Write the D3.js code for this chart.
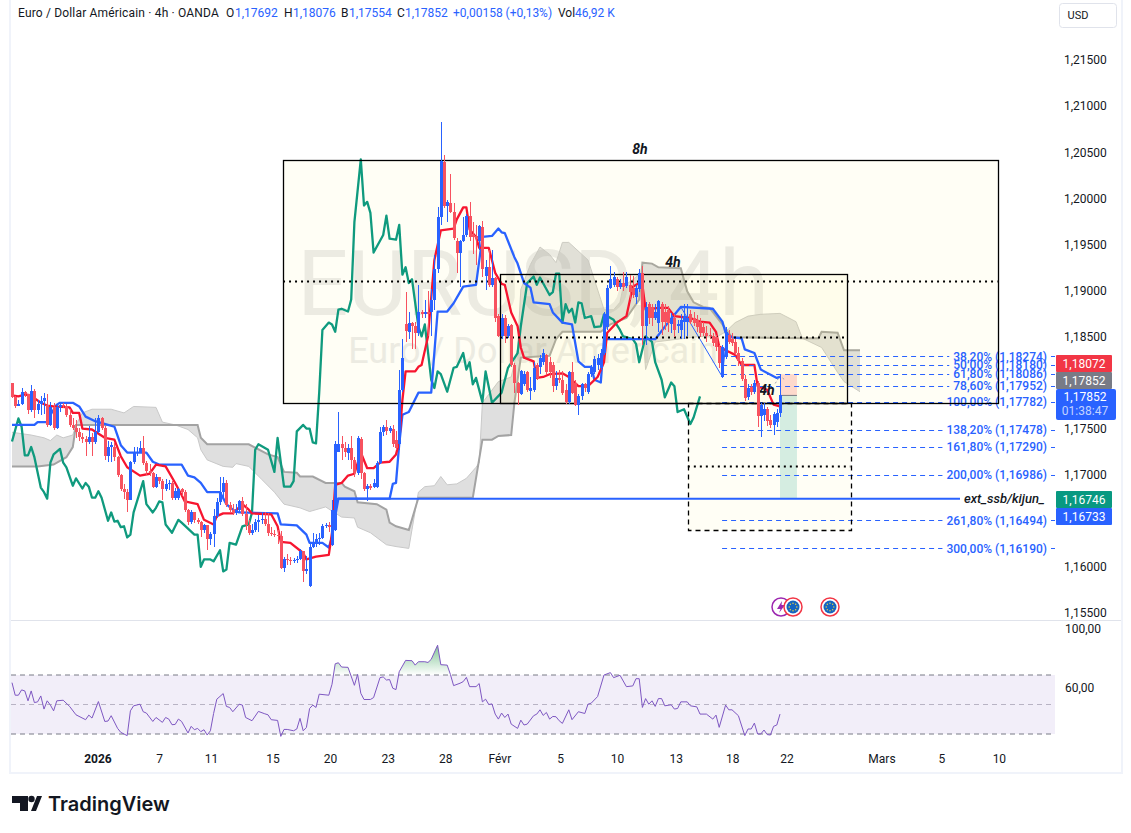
<!DOCTYPE html>
<html>
<head>
<meta charset="utf-8">
<title>EURUSD 4h</title>
<script src="https://cdnjs.cloudflare.com/ajax/libs/d3/7.8.5/d3.min.js"></script>
<style>
html, body { margin: 0; padding: 0; background: #fff; }
svg { display: block; }
text { font-family: Roboto, "Liberation Sans", sans-serif; }
.axis text { font-size: 12px; fill: #131722; }
.axis path, .axis line { display: none; }
</style>
</head>
<body>
<div id="chart"></div>
<script>
// candles, one entry per 4h bar
var candleOpen = [
1.1798,1.1783,1.1774,1.1776,1.1789,1.1786,1.1769,1.1790,1.1769,1.1776,
1.1779,1.1775,1.1753,1.1772,1.1750,1.1772,1.1775,1.1773,1.1764,1.1753,
1.1750,1.1745,1.1740,1.1738,1.1734,1.1740,1.1734,1.1745,1.1761,1.1750,
1.1719,1.1729,1.1729,1.1718,1.1699,1.1683,1.1680,1.1672,1.1713,1.1722,
1.1724,1.1728,1.1712,1.1703,1.1701,1.1686,1.1696,1.1692,1.1683,1.1689,
1.1690,1.1674,1.1674,1.1683,1.1680,1.1661,1.1648,1.1658,1.1650,1.1648,
1.1639,1.1644,1.1629,1.1635,1.1654,1.1669,1.1680,1.1690,1.1666,1.1661,
1.1657,1.1661,1.1670,1.1656,1.1644,1.1636,1.1639,1.1648,1.1650,1.1651,
1.1645,1.1636,1.1635,1.1634,1.1632,1.1598,1.1607,1.1606,1.1605,1.1606,
1.1607,1.1616,1.1594,1.1578,1.1620,1.1625,1.1629,1.1630,1.1643,1.1644,
1.1623,1.1639,1.1724,1.1732,1.1728,1.1722,1.1728,1.1715,1.1701,1.1738,
1.1701,1.1683,1.1687,1.1686,1.1686,1.1712,1.1745,1.1751,1.1746,1.1749,
1.1737,1.1732,1.1791,1.1862,1.1854,1.1864,1.1860,1.1853,1.1876,1.1873,
1.1876,1.1876,1.1888,1.1922,1.1979,1.2038,1.1990,1.1994,1.1984,1.1952,
1.1940,1.1953,1.1959,1.1980,1.1959,1.1958,1.1953,1.1968,1.1915,1.1924,
1.1905,1.1912,1.1871,1.1849,1.1869,1.1849,1.1861,1.1818,1.1799,1.1786,
1.1797,1.1810,1.1790,1.1791,1.1818,1.1816,1.1821,1.1829,1.1821,1.1818,
1.1795,1.1804,1.1802,1.1791,1.1778,1.1810,1.1799,1.1775,1.1784,1.1797,
1.1789,1.1808,1.1810,1.1818,1.1815,1.1831,1.1859,1.1902,1.1905,1.1911,
1.1903,1.1907,1.1904,1.1905,1.1902,1.1892,1.1900,1.1918,1.1860,1.1884,
1.1881,1.1869,1.1864,1.1884,1.1876,1.1878,1.1862,1.1869,1.1860,1.1856,
1.1865,1.1865,1.1873,1.1869,1.1867,1.1865,1.1859,1.1853,1.1851,1.1849,
1.1848,1.1838,1.1805,1.1827,1.1851,1.1846,1.1843,1.1831,1.1822,1.1803,
1.1783,1.1794,1.1789,1.1799,1.1763,1.1764,1.1770,1.1758,1.1753,1.1756,1.1766];
var candleHigh = [
1.1799,1.1784,1.1780,1.1793,1.1790,1.1786,1.1796,1.1792,1.1780,1.1784,
1.1788,1.1787,1.1778,1.1777,1.1775,1.1777,1.1777,1.1776,1.1770,1.1761,
1.1758,1.1750,1.1744,1.1741,1.1752,1.1744,1.1760,1.1764,1.1762,1.1752,
1.1736,1.1734,1.1734,1.1719,1.1700,1.1689,1.1683,1.1714,1.1729,1.1729,
1.1736,1.1741,1.1714,1.1711,1.1702,1.1700,1.1697,1.1694,1.1694,1.1693,
1.1692,1.1684,1.1684,1.1685,1.1682,1.1662,1.1661,1.1659,1.1652,1.1649,
1.1646,1.1644,1.1637,1.1662,1.1674,1.1696,1.1697,1.1693,1.1669,1.1667,
1.1667,1.1672,1.1675,1.1667,1.1650,1.1645,1.1651,1.1655,1.1659,1.1659,
1.1657,1.1642,1.1639,1.1639,1.1638,1.1610,1.1613,1.1610,1.1609,1.1611,
1.1618,1.1616,1.1611,1.1625,1.1636,1.1635,1.1636,1.1646,1.1647,1.1648,
1.1671,1.1735,1.1767,1.1741,1.1734,1.1732,1.1741,1.1718,1.1741,1.1740,
1.1702,1.1689,1.1689,1.1694,1.1714,1.1751,1.1753,1.1758,1.1752,1.1753,
1.1746,1.1813,1.1846,1.1897,1.1875,1.1865,1.1865,1.1905,1.1878,1.1889,
1.1898,1.1900,1.1937,1.1989,1.2082,1.2046,1.1997,1.2025,1.1994,1.1956,
1.1954,1.1979,1.1982,1.1995,1.1973,1.1970,1.1970,1.1974,1.1932,1.1943,
1.1943,1.1914,1.1873,1.1873,1.1872,1.1862,1.1862,1.1820,1.1800,1.1813,
1.1811,1.1811,1.1805,1.1821,1.1820,1.1829,1.1835,1.1830,1.1827,1.1821,
1.1811,1.1813,1.1811,1.1797,1.1812,1.1821,1.1802,1.1786,1.1799,1.1799,
1.1810,1.1818,1.1828,1.1830,1.1835,1.1875,1.1905,1.1925,1.1919,1.1914,
1.1911,1.1919,1.1919,1.1916,1.1915,1.1905,1.1922,1.1925,1.1886,1.1886,
1.1884,1.1884,1.1889,1.1886,1.1884,1.1882,1.1874,1.1873,1.1867,1.1873,
1.1884,1.1884,1.1878,1.1876,1.1872,1.1869,1.1865,1.1860,1.1858,1.1853,
1.1851,1.1840,1.1840,1.1859,1.1856,1.1853,1.1846,1.1837,1.1826,1.1807,
1.1797,1.1797,1.1802,1.1801,1.1777,1.1777,1.1772,1.1764,1.1767,1.1770,1.1808];
var candleLow = [
1.1782,1.1771,1.1773,1.1775,1.1783,1.1765,1.1767,1.1761,1.1765,1.1764,
1.1765,1.1751,1.1752,1.1748,1.1749,1.1767,1.1771,1.1762,1.1751,1.1747,
1.1739,1.1736,1.1733,1.1719,1.1732,1.1719,1.1732,1.1744,1.1748,1.1715,
1.1713,1.1713,1.1714,1.1697,1.1681,1.1673,1.1659,1.1671,1.1711,1.1719,
1.1722,1.1710,1.1699,1.1698,1.1684,1.1684,1.1689,1.1672,1.1681,1.1682,
1.1672,1.1672,1.1671,1.1676,1.1659,1.1644,1.1646,1.1647,1.1645,1.1631,
1.1636,1.1617,1.1623,1.1620,1.1652,1.1666,1.1675,1.1664,1.1658,1.1655,
1.1655,1.1659,1.1654,1.1639,1.1634,1.1634,1.1637,1.1637,1.1646,1.1643,
1.1632,1.1632,1.1631,1.1624,1.1597,1.1593,1.1601,1.1601,1.1603,1.1603,
1.1606,1.1583,1.1591,1.1577,1.1619,1.1620,1.1623,1.1629,1.1641,1.1637,
1.1622,1.1638,1.1724,1.1715,1.1718,1.1715,1.1705,1.1697,1.1699,1.1694,
1.1681,1.1670,1.1682,1.1684,1.1685,1.1711,1.1741,1.1742,1.1744,1.1729,
1.1726,1.1726,1.1789,1.1843,1.1846,1.1835,1.1835,1.1849,1.1869,1.1869,
1.1849,1.1849,1.1878,1.1918,1.1970,1.1988,1.1973,1.1983,1.1954,1.1918,
1.1903,1.1951,1.1957,1.1953,1.1938,1.1927,1.1943,1.1913,1.1899,1.1903,
1.1903,1.1865,1.1848,1.1846,1.1842,1.1847,1.1816,1.1788,1.1775,1.1785,
1.1795,1.1789,1.1780,1.1789,1.1802,1.1808,1.1818,1.1807,1.1804,1.1789,
1.1791,1.1798,1.1785,1.1776,1.1776,1.1786,1.1773,1.1764,1.1780,1.1789,
1.1786,1.1805,1.1808,1.1813,1.1813,1.1829,1.1856,1.1900,1.1903,1.1898,
1.1900,1.1898,1.1902,1.1889,1.1891,1.1884,1.1897,1.1840,1.1840,1.1862,
1.1860,1.1867,1.1854,1.1851,1.1856,1.1854,1.1853,1.1848,1.1853,1.1846,
1.1846,1.1850,1.1862,1.1860,1.1854,1.1848,1.1850,1.1843,1.1846,1.1839,
1.1833,1.1815,1.1804,1.1824,1.1841,1.1839,1.1829,1.1817,1.1801,1.1779,
1.1780,1.1785,1.1787,1.1751,1.1740,1.1757,1.1752,1.1750,1.1742,1.1751,1.1762];
var candleClose = [
1.1783,1.1774,1.1776,1.1789,1.1786,1.1769,1.1790,1.1769,1.1776,1.1779,
1.1782,1.1753,1.1772,1.1750,1.1772,1.1775,1.1773,1.1764,1.1753,1.1750,
1.1745,1.1740,1.1738,1.1734,1.1740,1.1734,1.1745,1.1761,1.1750,1.1719,
1.1729,1.1731,1.1718,1.1699,1.1683,1.1680,1.1672,1.1713,1.1722,1.1724,
1.1728,1.1712,1.1703,1.1701,1.1686,1.1696,1.1692,1.1683,1.1689,1.1690,
1.1674,1.1681,1.1683,1.1680,1.1661,1.1648,1.1658,1.1650,1.1648,1.1639,
1.1644,1.1629,1.1635,1.1654,1.1669,1.1680,1.1690,1.1666,1.1661,1.1657,
1.1661,1.1670,1.1656,1.1644,1.1636,1.1639,1.1648,1.1650,1.1651,1.1645,
1.1636,1.1635,1.1634,1.1632,1.1598,1.1607,1.1606,1.1605,1.1606,1.1607,
1.1616,1.1594,1.1597,1.1620,1.1625,1.1629,1.1630,1.1643,1.1644,1.1642,
1.1661,1.1732,1.1732,1.1728,1.1724,1.1728,1.1715,1.1701,1.1739,1.1701,
1.1683,1.1687,1.1685,1.1690,1.1712,1.1745,1.1751,1.1746,1.1750,1.1732,
1.1728,1.1791,1.1826,1.1855,1.1864,1.1860,1.1853,1.1876,1.1873,1.1876,
1.1873,1.1888,1.1922,1.1979,1.2039,1.1990,1.1995,1.1984,1.1956,1.1940,
1.1952,1.1959,1.1980,1.1957,1.1957,1.1956,1.1969,1.1922,1.1924,1.1905,
1.1912,1.1869,1.1849,1.1869,1.1849,1.1860,1.1818,1.1799,1.1788,1.1812,
1.1808,1.1791,1.1793,1.1815,1.1804,1.1826,1.1831,1.1810,1.1810,1.1795,
1.1804,1.1802,1.1788,1.1778,1.1810,1.1788,1.1775,1.1784,1.1797,1.1793,
1.1808,1.1816,1.1824,1.1826,1.1831,1.1873,1.1902,1.1911,1.1914,1.1903,
1.1907,1.1903,1.1913,1.1897,1.1894,1.1902,1.1918,1.1860,1.1881,1.1869,
1.1869,1.1876,1.1887,1.1865,1.1865,1.1864,1.1869,1.1856,1.1862,1.1867,
1.1871,1.1869,1.1865,1.1864,1.1859,1.1853,1.1853,1.1849,1.1849,1.1842,
1.1838,1.1820,1.1838,1.1854,1.1843,1.1842,1.1831,1.1822,1.1803,1.1782,
1.1793,1.1789,1.1799,1.1763,1.1775,1.1770,1.1757,1.1753,1.1765,1.1766,1.1785];

// ichimoku lines, read at the bars where they turn
var tenkanBars = [0,2,4,6,7,9,11,13,18,19,21,22,25,29,32,34,36,40,43,45,48,51,53,54,58,60,63,64,66,69,72,74,75,81,83,84,87,91,92,95,99,100,101,103,105,107,109,111,113,115,118,120,121,122,123,126,127,128,130,132,134,138,139,141,142,143,145,146,149,151,153,154,156,158,159,160,163,164,166,168,172,174,177,180,183,185,186,189,192,194,196,197,198,202,205,207,212,215,218,220,221,223,226,228,232,233,236,238,240];
var tenkanValues = [1.1785,1.1784,1.1786,1.1785,1.1782,1.1777,1.1774,1.1773,1.1772,1.1766,1.1766,1.1749,1.1748,1.1739,1.1737,1.1719,1.1707,1.1698,1.1700,1.1710,1.1708,1.1690,1.1677,1.1670,1.1667,1.1650,1.1645,1.1654,1.1657,1.1657,1.1667,1.1661,1.1657,1.1656,1.1643,1.1626,1.1625,1.1614,1.1607,1.1610,1.1612,1.1636,1.1688,1.1690,1.1698,1.1700,1.1723,1.1706,1.1706,1.1712,1.1713,1.1721,1.1734,1.1780,1.1811,1.1811,1.1816,1.1818,1.1849,1.1932,1.1964,1.1966,1.1976,1.1989,1.1989,1.1965,1.1957,1.1945,1.1945,1.1918,1.1906,1.1905,1.1875,1.1860,1.1837,1.1826,1.1822,1.1804,1.1805,1.1808,1.1809,1.1805,1.1795,1.1795,1.1805,1.1821,1.1853,1.1864,1.1871,1.1903,1.1907,1.1905,1.1878,1.1880,1.1880,1.1871,1.1869,1.1865,1.1864,1.1854,1.1838,1.1834,1.1829,1.1818,1.1818,1.1795,1.1791,1.1775,1.1773];
var kijunBars = [0,7,8,11,12,14,15,19,21,23,26,30,32,34,36,42,44,46,53,55,57,59,61,65,67,69,71,83,84,89,92,93,97,99,100,101,102,118,119,120,121,122,124,127,131,133,136,138,141,145,147,150,152,153,154,157,158,160,162,163,168,169,172,175,177,179,181,182,184,185,201,205,209,219,222,223,225,228,229,232,234,239,240];
var kijunValues = [1.1753,1.1753,1.1756,1.1756,1.1764,1.1775,1.1777,1.1777,1.1773,1.1762,1.1757,1.1753,1.1751,1.1731,1.1723,1.1723,1.1713,1.1710,1.1710,1.1698,1.1696,1.1690,1.1680,1.1680,1.1667,1.1661,1.1658,1.1657,1.1645,1.1644,1.1634,1.1625,1.1625,1.1620,1.1631,1.1654,1.1673,1.1673,1.1689,1.1690,1.1732,1.1764,1.1767,1.1788,1.1788,1.1876,1.1876,1.1885,1.1903,1.1905,1.1957,1.1958,1.1966,1.1962,1.1961,1.1935,1.1928,1.1907,1.1902,1.1886,1.1884,1.1875,1.1864,1.1862,1.1822,1.1816,1.1816,1.1802,1.1799,1.1846,1.1846,1.1864,1.1881,1.1879,1.1865,1.1853,1.1848,1.1847,1.1835,1.1831,1.1813,1.1804,1.1805];
var chikouBars = [0,2,3,4,5,6,7,9,10,11,12,13,15,16,17,19,20,22,23,24,25,26,27,28,30,31,32,33,34,35,36,37,38,41,42,44,45,46,47,48,50,52,53,57,58,59,60,62,63,65,66,67,68,70,72,74,75,76,77,80,82,83,85,87,88,89,91,92,93,94,95,96,97,99,100,101,102,103,105,106,107,109,110,111,112,113,116,117,118,120,121,122,123,124,125,127,128,129,131,132,133,134,136,138,139,141,142,143,144,145,147,148,150,153,155,158,159,161,163,164,165,168,169,170,171,172,173,174,175,176,177,178,179,181,182,184,185,188,190,191,194,195,196,198,200,201,203,204,206,207,208,210,212,213,215];
var chikouValues = [1.1735,1.1760,1.1751,1.1720,1.1720,1.1729,1.1718,1.1685,1.1680,1.1673,1.1712,1.1721,1.1727,1.1712,1.1707,1.1687,1.1695,1.1684,1.1690,1.1686,1.1674,1.1674,1.1681,1.1674,1.1649,1.1658,1.1648,1.1649,1.1642,1.1643,1.1631,1.1634,1.1658,1.1692,1.1667,1.1658,1.1663,1.1670,1.1669,1.1645,1.1636,1.1650,1.1647,1.1634,1.1634,1.1599,1.1607,1.1607,1.1605,1.1617,1.1594,1.1596,1.1625,1.1623,1.1643,1.1645,1.1658,1.1726,1.1732,1.1726,1.1702,1.1739,1.1686,1.1686,1.1692,1.1746,1.1753,1.1749,1.1749,1.1734,1.1733,1.1788,1.1856,1.1864,1.1862,1.1854,1.1878,1.1879,1.1876,1.1889,1.1973,1.2041,1.1991,1.1995,1.1983,1.1940,1.1959,1.1980,1.1955,1.1954,1.1970,1.1916,1.1924,1.1907,1.1911,1.1860,1.1849,1.1862,1.1802,1.1793,1.1811,1.1808,1.1789,1.1815,1.1816,1.1831,1.1813,1.1821,1.1797,1.1804,1.1778,1.1811,1.1777,1.1788,1.1815,1.1831,1.1860,1.1907,1.1914,1.1905,1.1913,1.1894,1.1897,1.1917,1.1917,1.1864,1.1884,1.1875,1.1879,1.1864,1.1886,1.1885,1.1869,1.1871,1.1859,1.1860,1.1873,1.1867,1.1856,1.1849,1.1846,1.1841,1.1821,1.1849,1.1843,1.1821,1.1802,1.1783,1.1799,1.1795,1.1767,1.1770,1.1754,1.1761,1.1784];
var spanABars = [0,6,10,12,14,16,19,20,22,25,31,35,38,45,47,51,55,58,59,61,66,69,70,74,78,82,85,90,93,98,103,107,108,112,117,120,124,127,129,132,134,136,139,142,145,146,147,152,156,158,159,162,165,168,170,172,174,180,184,185,188,190,191,196,198,201,215,220,223,226,230,234,240,245,247,253,258,260,265];
var spanAValues = [1.1745,1.1742,1.1739,1.1736,1.1742,1.1739,1.1742,1.1753,1.1766,1.1770,1.1770,1.1766,1.1773,1.1772,1.1756,1.1753,1.1748,1.1739,1.1726,1.1715,1.1708,1.1707,1.1711,1.1708,1.1694,1.1680,1.1667,1.1663,1.1659,1.1664,1.1653,1.1652,1.1642,1.1636,1.1623,1.1621,1.1619,1.1680,1.1686,1.1687,1.1697,1.1688,1.1689,1.1695,1.1707,1.1712,1.1777,1.1800,1.1805,1.1835,1.1900,1.1927,1.1946,1.1938,1.1929,1.1951,1.1951,1.1932,1.1889,1.1878,1.1878,1.1886,1.1903,1.1916,1.1813,1.1843,1.1849,1.1848,1.1854,1.1864,1.1871,1.1873,1.1874,1.1865,1.1847,1.1837,1.1810,1.1800,1.1789];
var spanBBars = [0,8,13,17,19,20,58,59,61,74,80,83,85,89,90,94,98,103,104,107,108,114,117,118,120,124,127,144,147,150,152,156,157,158,159,168,170,172,184,187,192,196,197,200,202,209,211,213,216,218,222,225,247,252,253,258,260,265];
var spanBValues = [1.1708,1.1708,1.1710,1.1718,1.1729,1.1753,1.1753,1.1739,1.1732,1.1732,1.1721,1.1718,1.1702,1.1701,1.1697,1.1697,1.1690,1.1690,1.1686,1.1681,1.1669,1.1667,1.1661,1.1647,1.1643,1.1639,1.1674,1.1674,1.1737,1.1737,1.1741,1.1742,1.1777,1.1802,1.1826,1.1828,1.1846,1.1854,1.1854,1.1862,1.1869,1.1889,1.1929,1.1928,1.1924,1.1923,1.1898,1.1886,1.1881,1.1880,1.1862,1.1848,1.1847,1.1847,1.1854,1.1853,1.1834,1.1834];

// rsi pane
var rsiBars = [0,1,2,3,4,5,6,7,8,9,10,11,12,13,14,16,18,20,23,24,25,27,29,30,31,33,34,36,37,38,40,41,42,44,45,47,48,49,50,51,52,53,55,56,57,58,59,60,61,62,63,64,66,67,68,69,71,72,73,75,77,79,80,81,83,84,85,86,88,89,90,91,92,93,94,95,96,99,100,101,102,103,105,107,108,109,110,112,113,115,116,117,118,119,120,121,123,125,126,127,129,130,131,133,134,136,137,138,140,141,142,143,145,146,147,148,149,150,151,152,153,154,155,156,158,159,160,161,163,164,165,166,167,168,169,170,171,172,174,175,177,179,180,181,183,185,187,188,190,192,194,195,196,197,198,199,200,201,202,203,204,206,207,208,209,211,212,214,215,217,219,220,221,223,224,225,227,229,230,231,232,233,234,235,236,237,238,239,240];
var rsiValues = [64.8,56.3,56.3,59.9,59.2,52.5,59.2,51.3,51.8,55.8,46.9,52.5,49.6,45.7,52.5,52.9,48.7,43.0,39.7,42.8,40.8,52.0,38.5,38.8,42.4,33.8,31.1,28.9,45.7,49.1,50.2,45.1,44.2,38.5,41.2,37.9,41.2,40.1,36.3,36.5,40.1,38.5,30.7,35.2,32.9,33.8,31.6,32.9,29.3,32.2,43.9,53.6,57.4,48.7,48.0,45.1,50.2,49.6,41.2,39.0,45.3,43.7,43.0,39.7,39.2,28.4,33.1,33.1,32.2,33.4,40.6,32.2,34.4,47.3,49.6,48.0,57.0,56.3,63.7,77.6,78.3,75.4,75.2,63.0,70.4,57.6,53.4,53.4,54.7,68.2,68.7,66.6,66.9,61.0,60.1,72.2,79.9,79.7,76.7,79.0,79.0,78.5,80.6,90.2,77.0,76.7,70.4,62.8,64.4,65.5,68.4,62.1,62.1,64.2,51.8,53.6,50.0,50.4,43.5,40.1,44.2,41.2,43.5,36.7,33.8,39.4,36.1,36.7,42.4,43.5,46.4,42.6,44.6,40.1,41.9,41.7,39.0,37.2,46.4,39.7,45.1,43.9,50.2,50.9,55.4,70.0,71.6,68.2,69.8,62.1,62.6,67.5,67.5,48.0,54.0,50.2,52.5,48.7,54.0,54.0,49.1,49.8,46.9,47.3,51.8,51.8,49.1,48.4,43.5,43.5,40.1,42.8,34.5,49.6,46.4,46.4,42.4,28.9,33.4,33.4,37.4,30.0,30.0,32.7,29.6,29.3,35.2,36.1,43.5];
var rsiBands = [70, 50, 30];
var rsiTicks = [100, 60];

// axes
var priceTicks = [1.215,1.21,1.205,1.2,1.195,1.19,1.185,1.175,1.17,1.16,1.155];
var timeTickBars = [26.7,46,62.2,81.4,99.4,117.4,135.4,152.3,171.3,189.1,207.4,225.1,242,271.7,290.4,308.4];
var timeTickLabels = ["2026","7","11","15","20","23","28","Févr","5","10","13","18","22","Mars","5","10"];

// fib levels of the drawing on the right
var fibLevels = ["38,20%","50,00%","61,80%","78,60%","100,00%","138,20%","161,80%","200,00%","261,80%","300,00%"];
var fibPrices = [1.18274,1.1818,1.18086,1.17952,1.17782,1.17478,1.1729,1.16986,1.16494,1.1619];

// boxes drawn on the chart
var boxLeft = [84.7,152.5,211.2];
var boxRight = [308,261,262];
var boxTop = [1.2040,1.1917,1.17765];
var boxBottom = [1.17765,1.17765,1.16383];
var boxMid = [1.19085,1.18477,1.17078];
var boxNames = ["8h","4h","4h"];

var width = 1131, height = 833;
var fr = d3.formatLocale({decimal: ",", thousands: " ", grouping: [3], currency: ["", ""]});
var fmtPrice = fr.format(".5f"), fmtRsi = fr.format(".2f");
var BLUE = "#2962ff", RED = "#f7525f";

var xScale = d3.scaleLinear().domain([0, 100]).range([12, 332]);
var yScale = d3.scaleLinear().domain([1.155, 1.215]).range([612, 59]);
var rsiScale = d3.scaleLinear().domain([30, 70]).range([734, 675]);

var svg = d3.select("#chart").append("svg").attr("width", width).attr("height", height);

// frame of the chart
var frame = "#f0f3fa";
svg.append("rect").attr("x", 9).attr("y", 0).attr("width", 2).attr("height", 774).attr("fill", frame);
svg.append("rect").attr("x", 1121).attr("y", 0).attr("width", 2).attr("height", 774).attr("fill", frame);
svg.append("rect").attr("x", 9).attr("y", 772).attr("width", 1114).attr("height", 2).attr("fill", frame);
svg.append("line").attr("x1", 11).attr("x2", 1121).attr("y1", 620.5).attr("y2", 620.5).attr("stroke", "#e0e3eb");

// watermark
svg.append("text").attr("x", 533).attr("y", 315).attr("text-anchor", "middle")
    .style("font-size", "90px").attr("fill", "#ebebeb").text("EURUSD, 4h");
svg.append("text").attr("x", 533).attr("y", 363).attr("text-anchor", "middle")
    .style("font-size", "36px").attr("fill", "#ebebeb").text("Euro / Dollar Américain");

var lineGen = d3.line().x(function(d) { return xScale(d[0]); }).y(function(d) { return yScale(d[1]); });
function pairs(bars, values) { return bars.map(function(b, i) { return [b, values[i]]; }); }

// cloud
var spanA = pairs(spanABars, spanAValues), spanB = pairs(spanBBars, spanBValues);
svg.append("path").attr("d", lineGen(spanA.concat(spanB.slice().reverse())) + "Z")
    .attr("fill", "#808080").attr("fill-opacity", 0.25);
svg.append("path").attr("d", lineGen(spanA)).attr("fill", "none").attr("stroke", "#c9c9c9").attr("stroke-width", 1);
svg.append("path").attr("d", lineGen(spanB)).attr("fill", "none").attr("stroke", "#a3a3a3").attr("stroke-width", 2);

// boxes
boxNames.forEach(function(name, i) {
    var x0 = xScale(boxLeft[i]), x1 = xScale(boxRight[i]), y0 = yScale(boxTop[i]), y1 = yScale(boxBottom[i]);
    svg.append("rect").attr("x", x0).attr("y", y0).attr("width", x1 - x0).attr("height", y1 - y0)
        .attr("fill", "#fff176").attr("fill-opacity", 0.07);
});

// short position tool
var posX0 = xScale(240), posX1 = xScale(245.3);
svg.append("rect").attr("x", posX0).attr("width", posX1 - posX0)
    .attr("y", yScale(1.1808)).attr("height", yScale(1.1785) - yScale(1.1808))
    .attr("fill", "#f23645").attr("fill-opacity", 0.18);
svg.append("rect").attr("x", posX0).attr("width", posX1 - posX0)
    .attr("y", yScale(1.1785)).attr("height", yScale(1.1673) - yScale(1.1785))
    .attr("fill", "#089981").attr("fill-opacity", 0.17);
svg.append("line").attr("x1", posX0).attr("x2", posX1).attr("y1", yScale(1.1785)).attr("y2", yScale(1.1785))
    .attr("stroke", "#787b86");
svg.append("path").attr("d", lineGen([[238.5, 1.1798], [240, 1.1806], [241.5, 1.1802]]))
    .attr("fill", "none").attr("stroke", "#a0a3ad").attr("stroke-dasharray", "2,2");

// ichimoku lines
function drawLine(bars, values, color) {
    svg.append("path").attr("d", lineGen(pairs(bars, values)))
        .attr("fill", "none").attr("stroke", color).attr("stroke-width", 2.3).attr("stroke-linejoin", "round");
}
drawLine(chikouBars, chikouValues, "#0f9a7e");
drawLine(kijunBars, kijunValues, BLUE);
drawLine(tenkanBars, tenkanValues, "#f7152f");

// thin trend line
svg.append("path").attr("d", lineGen([[209, 1.1881], [222, 1.1805], [223, 1.1840]]))
    .attr("fill", "none").attr("stroke", BLUE).attr("stroke-width", 1);

// fib lines, cut where their label sits
var fibG = svg.selectAll(".fib").data(fibPrices).enter().append("g").attr("class", "fib");
fibG.append("text").attr("x", 1047).attr("y", function(d) { return yScale(d); }).attr("dy", "0.35em")
    .attr("text-anchor", "end").style("font-size", "12px").style("font-weight", 500).attr("fill", BLUE)
    .text(function(d, i) { return fibLevels[i] + " (" + fmtPrice(d) + ")"; });
fibG.each(function(d) {
    var g = d3.select(this), w = g.select("text").node().getComputedTextLength(), y = Math.round(yScale(d)) + 0.5;
    g.insert("line", "text").attr("x1", xScale(221.9)).attr("x2", 1047 - w - 4).attr("y1", y).attr("y2", y)
        .attr("stroke", BLUE).attr("stroke-dasharray", "5,4");
    g.insert("line", "text").attr("x1", 1051).attr("x2", 1055).attr("y1", y).attr("y2", y).attr("stroke", BLUE);
});

// box outlines, mid lines and names
boxNames.forEach(function(name, i) {
    var x0 = xScale(boxLeft[i]), x1 = xScale(boxRight[i]), y0 = yScale(boxTop[i]), y1 = yScale(boxBottom[i]);
    svg.append("rect").attr("x", Math.round(x0) + 0.5).attr("y", Math.round(y0) + 0.5)
        .attr("width", Math.round(x1 - x0)).attr("height", Math.round(y1 - y0))
        .attr("fill", "none").attr("stroke", "#000").attr("stroke-width", 1.3)
        .attr("stroke-dasharray", i == 2 ? "5,4" : null);
    svg.append("line").attr("x1", x0).attr("x2", x1).attr("y1", yScale(boxMid[i])).attr("y2", yScale(boxMid[i]))
        .attr("stroke", "#000").attr("stroke-width", 2).attr("stroke-dasharray", "2,4");
});
var nameX = [640, 673, 767], nameY = [154, 267, 395];
boxNames.forEach(function(name, i) {
    svg.append("text").attr("x", nameX[i]).attr("y", nameY[i]).attr("text-anchor", "middle")
        .style("font-size", "14px").style("font-weight", "bold").style("font-style", "italic")
        .attr("fill", "#131722").text(name);
});

// candles
var candles = svg.append("g").selectAll("g").data(candleClose).enter().append("g")
    .attr("fill", function(d, i) { return d >= candleOpen[i] ? BLUE : RED; })
    .attr("shape-rendering", "crispEdges");
candles.append("rect")
    .attr("x", function(d, i) { return Math.round(xScale(i)); })
    .attr("width", 1)
    .attr("y", function(d, i) { return yScale(candleHigh[i]); })
    .attr("height", function(d, i) { return yScale(candleLow[i]) - yScale(candleHigh[i]); });
candles.append("rect")
    .attr("x", function(d, i) { return Math.round(xScale(i)) - 1; })
    .attr("width", 3)
    .attr("y", function(d, i) { return yScale(Math.max(d, candleOpen[i])); })
    .attr("height", function(d, i) { return Math.max(1, Math.abs(yScale(d) - yScale(candleOpen[i]))); });

// horizontal ray and its label
var rayPrice = 1.1673;
svg.append("line").attr("x1", xScale(101.5)).attr("x2", 960).attr("y1", yScale(rayPrice)).attr("y2", yScale(rayPrice))
    .attr("stroke", BLUE).attr("stroke-width", 2);
svg.append("text").attr("x", 964).attr("y", yScale(rayPrice)).attr("dy", "0.35em")
    .style("font-size", "13px").style("font-style", "italic").style("font-weight", 500)
    .attr("fill", "#131722").text("ext_ssb/kijun_");

// price axis
svg.append("g").attr("class", "axis").attr("transform", "translate(1064,1)")
    .call(d3.axisRight(yScale).tickValues(priceTicks).tickSize(0).tickPadding(0).tickFormat(fmtPrice));

// value labels on the price axis
var tagTexts = ["1,18072", "1,17852", "1,16746", "1,16733"];
var tagColors = ["#f23645", "#787b86", "#089981", BLUE];
var tagTops = [355, 372, 491, 508];
tagTexts.forEach(function(t, i) {
    svg.append("rect").attr("x", 1056).attr("y", tagTops[i]).attr("width", 56).attr("height", 17).attr("rx", 1).attr("fill", tagColors[i]);
    svg.append("text").attr("x", 1084).attr("y", tagTops[i] + 12.5).attr("text-anchor", "middle")
        .style("font-size", "12px").attr("fill", "#fff").text(t);
});
svg.append("rect").attr("x", 1056).attr("y", 389).attr("width", 60).attr("height", 31).attr("rx", 2).attr("fill", BLUE);
svg.append("text").attr("x", 1085).attr("y", 401).attr("text-anchor", "middle").style("font-size", "12px").attr("fill", "#fff").text("1,17852");
svg.append("text").attr("x", 1085).attr("y", 415).attr("text-anchor", "middle").style("font-size", "12px").attr("fill", "#c3d2ff").text("01:38:47");

// USD button
svg.append("rect").attr("x", 1059.5).attr("y", 3.5).attr("width", 57).attr("height", 24).attr("rx", 3)
    .attr("fill", "#fff").attr("stroke", "#e0e3eb");
svg.append("text").attr("x", 1078).attr("y", 19).attr("text-anchor", "middle").style("font-size", "11px").attr("fill", "#131722").text("USD");

// header
var headerParts = [
    ["Euro / Dollar Américain · 4h · OANDA", 18, "#131722", 0.17], ["O", 226, "#131722"], ["1,17692", 235, BLUE],
    ["H", 284, "#131722"], ["1,18076", 293, BLUE], ["B", 341, "#131722"], ["1,17554", 349, BLUE],
    ["C", 397, "#131722"], ["1,17852", 405, BLUE], ["+0,00158 (+0,13%)", 453, BLUE],
    ["Vol", 558, "#131722"], ["46,92 K", 575, BLUE]];
headerParts.forEach(function(p) {
    svg.append("text").attr("x", p[1]).attr("y", 17).style("font-size", "12px")
        .style("letter-spacing", p[3] ? p[3] + "px" : null).attr("fill", p[2]).text(p[0]);
});

// event icons
function flag(cx, cy) {
    svg.append("circle").attr("cx", cx).attr("cy", cy).attr("r", 9).attr("fill", "#fff").attr("stroke", "#f23645").attr("stroke-width", 1.5);
    svg.append("circle").attr("cx", cx).attr("cy", cy).attr("r", 6.5).attr("fill", "#1565c0");
    d3.range(8).forEach(function(k) {
        var a = k * Math.PI / 4;
        svg.append("circle").attr("cx", cx + 3.8 * Math.cos(a)).attr("cy", cy + 3.8 * Math.sin(a)).attr("r", 0.7).attr("fill", "#fdd835");
    });
}
svg.append("circle").attr("cx", 781).attr("cy", 607).attr("r", 9).attr("fill", "#fff").attr("stroke", "#9c27b0").attr("stroke-width", 1.5);
svg.append("path").attr("d", "M782 601L777 609H780.5L779 613L785 605H781.5Z").attr("fill", "#9c27b0");
flag(793, 607);
flag(830, 607);

// rsi pane
svg.append("rect").attr("x", 11).attr("width", 1044).attr("y", rsiScale(70)).attr("height", rsiScale(30) - rsiScale(70))
    .attr("fill", "#7e57c2").attr("fill-opacity", 0.1);
rsiBands.forEach(function(v) {
    svg.append("line").attr("x1", 11).attr("x2", 1055).attr("y1", rsiScale(v)).attr("y2", rsiScale(v))
        .attr("stroke", v == 50 ? "#b8b3c4" : "#787b86").attr("stroke-width", 1).attr("stroke-dasharray", "5,4");
});
var rsiPts = rsiBars.map(function(b, i) { return {bar: b, v: rsiValues[i]}; });
var defs = svg.append("defs");
// green fades out on the way down to the 70 line
var grad = defs.append("linearGradient").attr("id", "obGrad").attr("gradientUnits", "userSpaceOnUse")
    .attr("x1", 0).attr("x2", 0).attr("y1", rsiScale(90)).attr("y2", rsiScale(70));
grad.append("stop").attr("offset", "0%").attr("stop-color", "#2e9e4f").attr("stop-opacity", 0.6);
grad.append("stop").attr("offset", "100%").attr("stop-color", "#2e9e4f").attr("stop-opacity", 0);
defs.append("clipPath").attr("id", "obClip").append("rect")
    .attr("x", 0).attr("width", width).attr("y", rsiScale(100)).attr("height", rsiScale(70) - rsiScale(100));
svg.append("path").datum(rsiPts)
    .attr("d", d3.area().x(function(d) { return xScale(d.bar); }).y0(rsiScale(70)).y1(function(d) { return rsiScale(d.v); }))
    .attr("clip-path", "url(#obClip)").attr("fill", "url(#obGrad)");
svg.append("path").datum(rsiPts)
    .attr("d", d3.line().x(function(d) { return xScale(d.bar); }).y(function(d) { return rsiScale(d.v); }))
    .attr("fill", "none").attr("stroke", "#7e57c2").attr("stroke-width", 1);
svg.append("g").attr("class", "axis").attr("transform", "translate(1065,-2)")
    .call(d3.axisRight(rsiScale).tickValues(rsiTicks).tickSize(0).tickPadding(0).tickFormat(fmtRsi));

// time axis
svg.append("g").attr("class", "axis").attr("transform", "translate(0,754)")
    .call(d3.axisBottom(xScale).tickValues(timeTickBars).tickSize(0).tickPadding(0)
        .tickFormat(function(d, i) { return timeTickLabels[i]; }))
    .selectAll("text").style("font-weight", function(d, i) { return i == 0 ? "bold" : null; });

// logo
svg.append("path").attr("d", "M12 796H28V811H20V803H12Z").attr("fill", "#131722");
svg.append("circle").attr("cx", 31.5).attr("cy", 799).attr("r", 3.2).attr("fill", "#131722");
svg.append("path").attr("d", "M31 811L37 796H42L36 811Z").attr("fill", "#131722");
svg.append("text").attr("x", 48).attr("y", 811).style("font-family", "Inter, Roboto, sans-serif")
    .style("font-size", "20px").style("font-weight", 600).attr("fill", "#131722").text("TradingView");
</script>
</body>
</html>
